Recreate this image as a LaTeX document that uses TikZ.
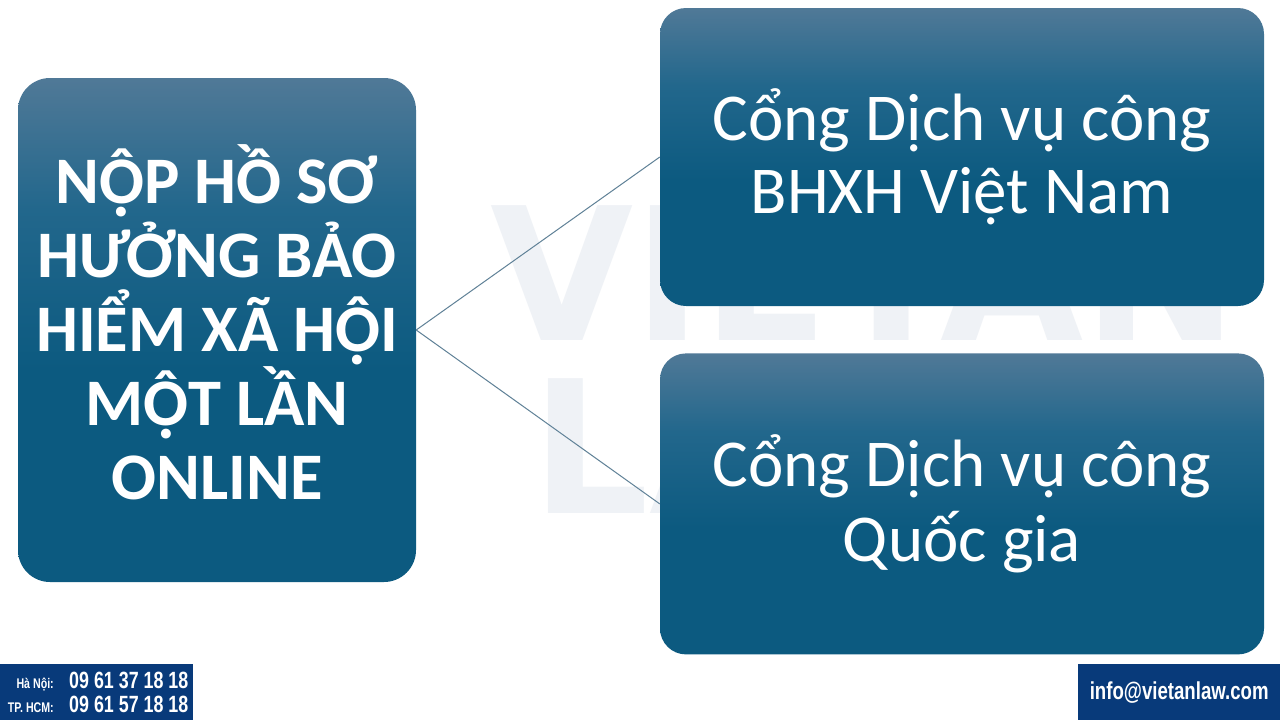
\documentclass[tikz,border=0pt]{standalone}
\usepackage{fontspec}
\setmainfont{Carlito}
\newfontfamily\narrowfont[FakeStretch=0.76]{Liberation Sans}
\newfontfamily\markfont{DejaVu Sans}
\newcommand{\Ohd}{\ooalign{Ô\cr\hidewidth\raisebox{-0.2em}{.}\hidewidth\cr}}
\usepackage{tikz}
\definecolor{boxlight}{RGB}{80,121,151}
\definecolor{boxmid}{RGB}{34,103,140}
\definecolor{boxdark}{RGB}{12,90,128}
\definecolor{mynavy}{RGB}{8,58,122}
\definecolor{myline}{RGB}{95,129,151}
\definecolor{mywater}{RGB}{239,242,246}
\usetikzlibrary{positioning,shapes,calc}
\pgfdeclareverticalshading{boxshade}{100bp}{color(0bp)=(boxdark); color(25bp)=(boxdark); color(46bp)=(boxdark); color(62bp)=(boxmid); color(75bp)=(boxlight); color(100bp)=(boxlight)}

\begin{document}
\begin{tikzpicture}[x=1pt,y=-1pt,
    bluebox/.style={rectangle,shading=boxshade,text=white,align=center,inner sep=0pt},
    navybox/.style={rectangle,fill=mynavy,text=white,inner sep=0pt},
    phone/.style={font=\fontsize{23.5}{24}\narrowfont\bfseries,text=white,inner sep=0pt},
    city/.style={font=\fontsize{14}{15}\narrowfont\bfseries,text=white,inner sep=0pt},
    conn/.style={draw=myline,line width=1pt},
    watermark/.style={font=\fontsize{185}{190}\markfont\bfseries,text=mywater,inner sep=0pt}
    ]
    \useasboundingbox[fill=white] (0,0) rectangle (1280,720);

    % watermark
    \node (markvn) [watermark,anchor=base west] at (490,340) {VIETAN};
    \node (marklaw) [watermark,anchor=base west] at (531,513) {LAW};

    \node (nop) [bluebox,minimum width=398pt,minimum height=504pt,rounded corners=32pt,
        font=\fontsize{66.5}{74}\selectfont\bfseries] at (217,330)
        {N\Ohd P HỒ SƠ\\HƯỞNG BẢO\\HIỂM XÃ H\Ohd I\\M\Ohd T LẦN\\ONLINE\rule[-16pt]{0pt}{16pt}};
    \node (bhxh) [bluebox,minimum width=604pt,minimum height=298pt,rounded corners=26pt,
        font=\fontsize{67}{73}\selectfont] at (962,157)
        {Cổng Dịch vụ công\\BHXH Việt Nam};
    \node (quocgia) [bluebox,minimum width=604pt,minimum height=301pt,rounded corners=26pt,
        font=\fontsize{67}{75}\selectfont,below=47pt of bhxh]
        {Cổng Dịch vụ công\\Quốc gia};

    % the edges
    \draw[conn] (nop.east) -- (bhxh.west);
    \draw[conn] (nop.east) -- (quocgia.west);

    % hotline and mail
    \node (hotline) [navybox,minimum width=193pt,minimum height=56pt,anchor=north west] at (0,664) {};
    \node (hanoi) [city,anchor=base east] at (54,688) {Hà Nội:};
    \node (hcm) [city,anchor=base east] at (54,712) {TP. HCM:};
    \node (hanoinum) [phone,anchor=base west] at (69,688) {09 61 37 18 18};
    \node (hcmnum) [phone,anchor=base west] at (69,712) {09 61 57 18 18};
    \node (mail) [navybox,minimum width=202pt,minimum height=56pt,anchor=north west,
        font=\fontsize{24.5}{25}\narrowfont\bfseries] at (1078,664) {info@vietanlaw.com};
\end{tikzpicture}
\end{document}
